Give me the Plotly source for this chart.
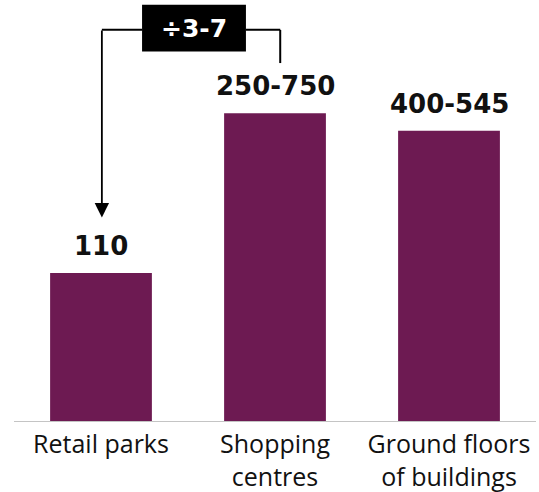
import plotly.graph_objects as go

# Retail location types and their bar heights
categories = ["Retail parks", "Shopping<br>centres", "Ground floors<br>of buildings"]
bar_heights = [110, 228, 215]
value_labels = ["110", "250-750", "400-545"]
ratio_label = "÷3-7"

bar_color = "#6D1A52"
px_per_unit = 149 / 110  # vertical scale of the plot area
plot_h = 422
y_max = plot_h / px_per_unit

fig = go.Figure()
fig.add_trace(go.Bar(
    x=list(range(len(categories))),
    y=bar_heights,
    marker=dict(color=bar_color, line=dict(width=0)),
    width=0.585,
    hoverinfo="skip",
))

# value labels above each bar
for i, (h, lab) in enumerate(zip(bar_heights, value_labels)):
    fig.add_annotation(
        x=i, y=h, text=f"<b>{lab}</b>", showarrow=False,
        yanchor="bottom", yshift=10,
        font=dict(family="DejaVu Sans", size=26, color="#111111"),
    )

# connector: box with ratio, line from shopping centres to retail parks
line_y = 289.5
box_x0, box_x1 = 0.236, 0.833
box_y0, box_y1 = 273.5, 308.0
black = "#000000"
fig.add_shape(type="rect", xref="x", yref="y", x0=box_x0, x1=box_x1,
              y0=box_y0, y1=box_y1, fillcolor=black, line=dict(width=0), layer="above")
fig.add_shape(type="line", xref="x", yref="y", x0=0.005, x1=box_x0, y0=line_y, y1=line_y,
              line=dict(color=black, width=2))
fig.add_shape(type="line", xref="x", yref="y", x0=box_x1, x1=1.03, y0=line_y, y1=line_y,
              line=dict(color=black, width=2))
fig.add_shape(type="line", xref="x", yref="y", x0=1.03, x1=1.03, y0=line_y, y1=265,
              line=dict(color=black, width=2))
fig.add_annotation(
    x=0.005, y=151, ax=0.005, ay=line_y + 0.7, xref="x", yref="y", axref="x", ayref="y",
    text="", showarrow=True, arrowhead=2, arrowsize=1.6, arrowwidth=1.8, arrowcolor=black,
)
fig.add_annotation(
    x=(box_x0 + box_x1) / 2, y=(box_y0 + box_y1) / 2, text=f"<b>{ratio_label}</b>",
    showarrow=False, font=dict(family="DejaVu Sans", size=25, color="#FFFFFF"),
)

# baseline
fig.add_shape(type="line", xref="x", yref="y", x0=-0.517, x1=2.52, y0=0, y1=0,
              line=dict(color="#C4C4C4", width=2), layer="above")

fig.update_layout(
    width=539, height=492,
    margin=dict(l=14, r=3, t=0, b=70),
    plot_bgcolor="white", paper_bgcolor="white",
    showlegend=False,
    xaxis=dict(
        range=[-0.5, 2.5], tickmode="array", tickvals=list(range(len(categories))),
        ticktext=categories, showgrid=False, zeroline=False, showline=False,
        ticks="", tickfont=dict(family="Open Sans", size=25, color="#111111"),
        ticklabelstandoff=5, automargin=False,
    ),
    yaxis=dict(range=[0, y_max], visible=False, showgrid=False, zeroline=False),
)

fig.write_html("out.html")
